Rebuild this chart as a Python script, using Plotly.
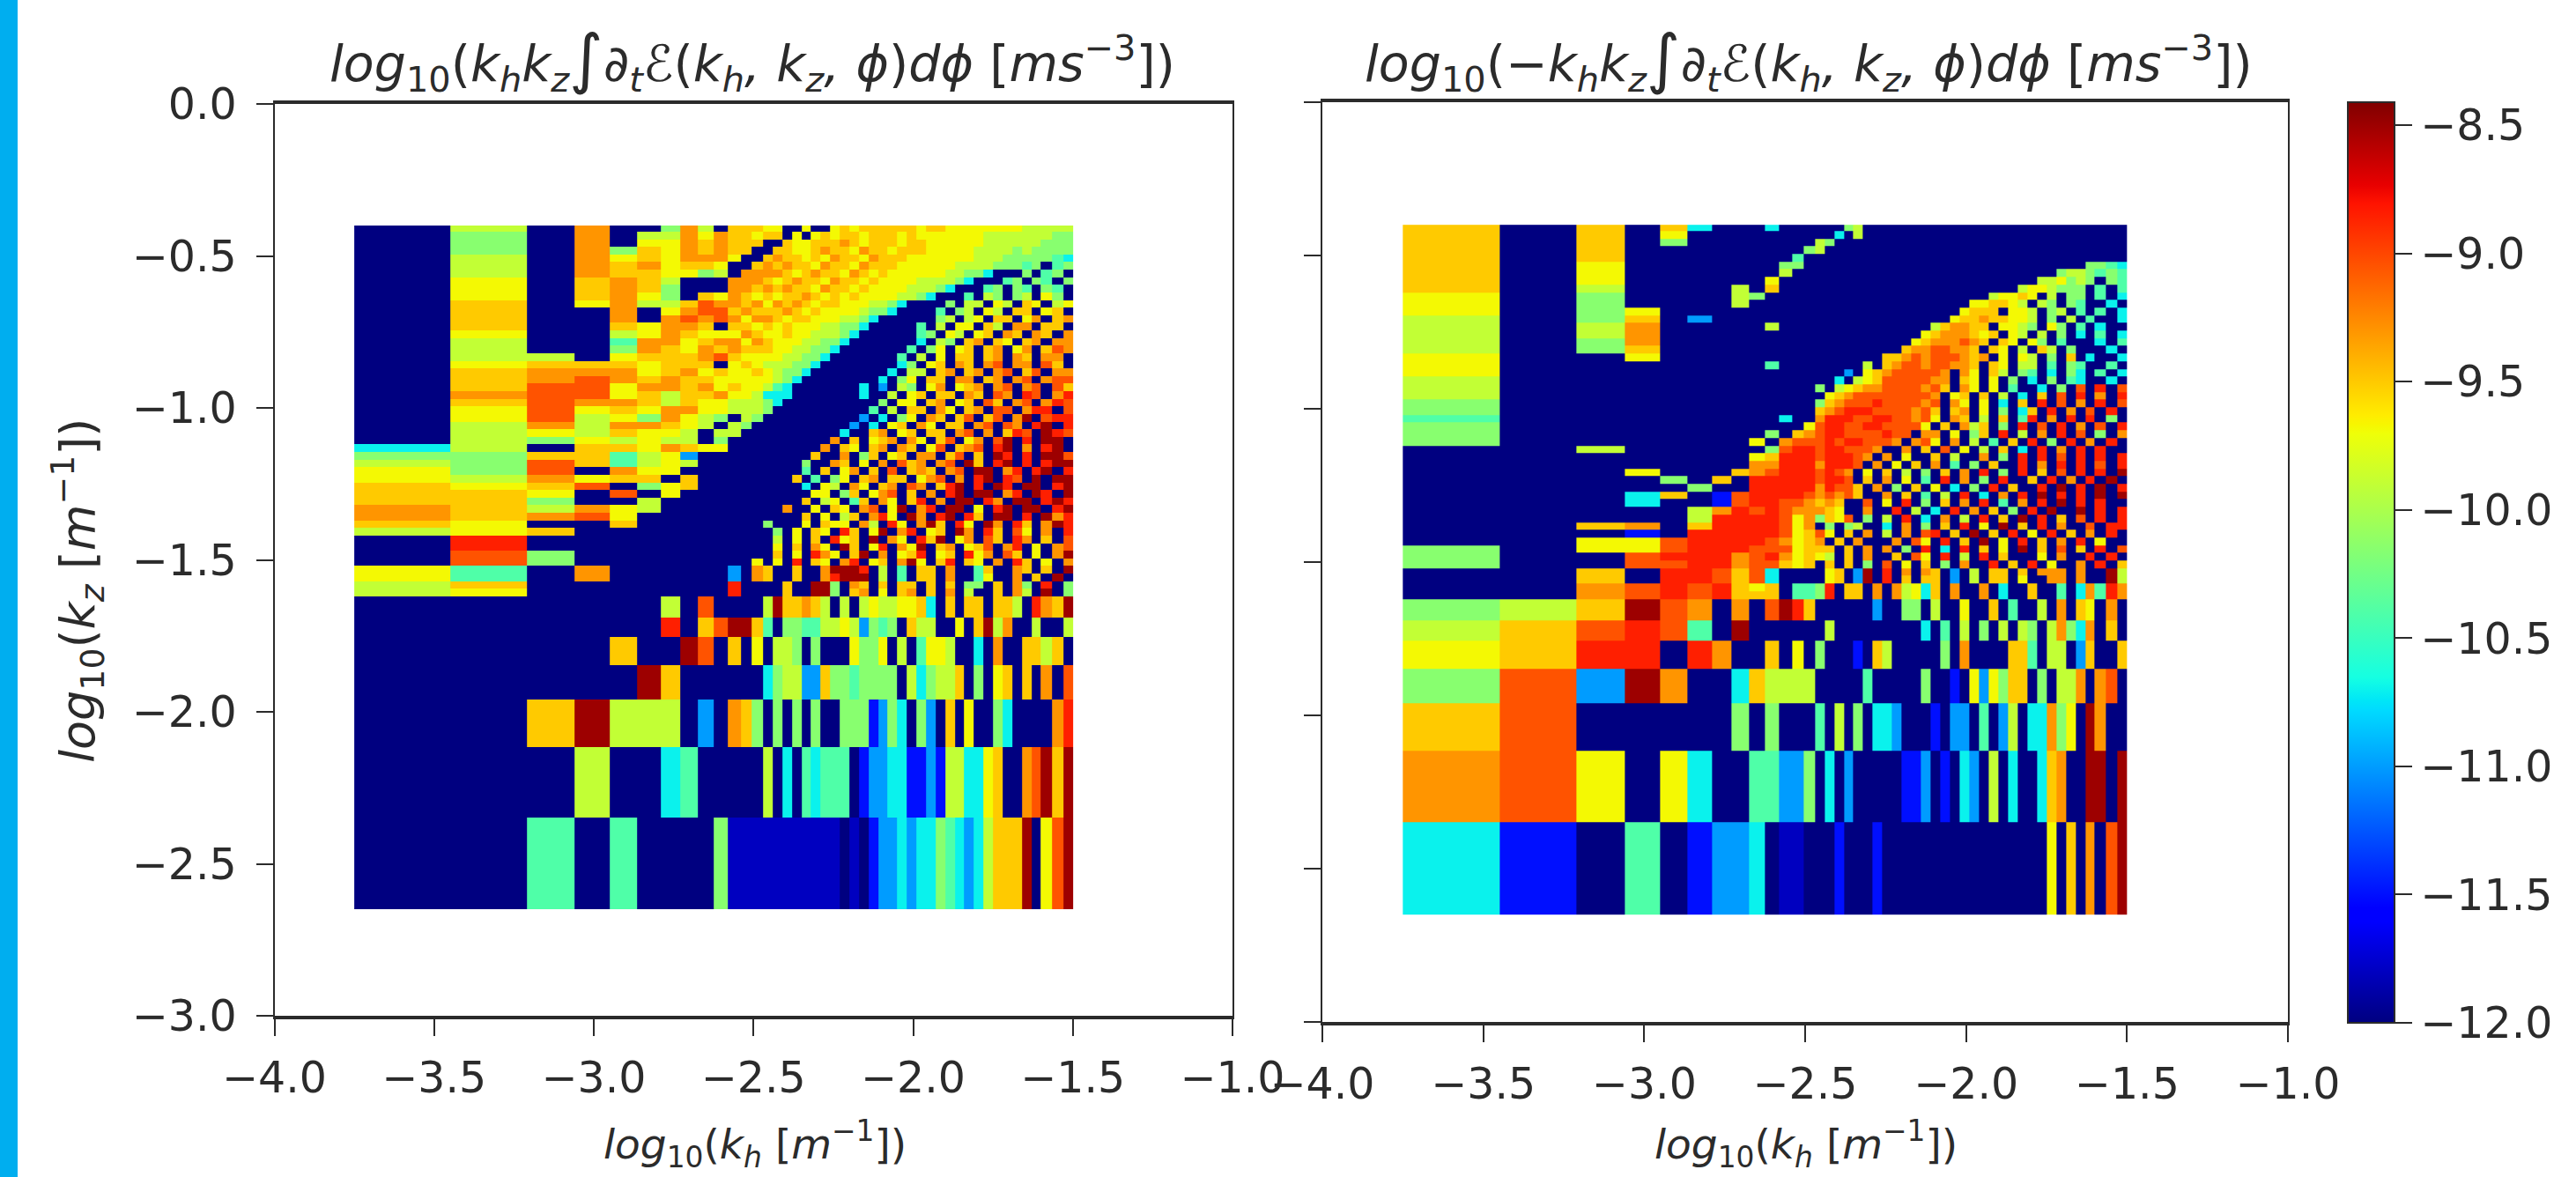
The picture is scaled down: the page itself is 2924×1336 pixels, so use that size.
import plotly.graph_objects as go

KH_EDGES = [-3.75, -3.45, -3.21, -3.06, -2.95, -2.865, -2.79, -2.73, -2.675, -2.625, -2.58, -2.54, -2.505, -2.47,
            -2.44, -2.41, -2.38, -2.35, -2.32, -2.29, -2.26, -2.23, -2.20, -2.17, -2.14, -2.11, -2.08, -2.05, -2.02,
            -1.99, -1.96, -1.93, -1.90, -1.87, -1.84, -1.81, -1.78, -1.75, -1.72, -1.69, -1.66, -1.63, -1.60, -1.565,
            -1.53, -1.50]
KZ_EDGES = [-2.65, -2.348, -2.116, -1.96, -1.847, -1.755, -1.69, -1.62,
            -1.595, -1.57, -1.545, -1.52, -1.495, -1.47, -1.445, -1.42, -1.395, -1.37, -1.345, -1.32, -1.295, -1.27,
            -1.245, -1.22, -1.195, -1.17, -1.145, -1.12, -1.095, -1.07, -1.045, -1.02, -0.995, -0.97, -0.945, -0.92,
            -0.895, -0.87, -0.845, -0.82, -0.795, -0.77, -0.745, -0.72, -0.695, -0.67, -0.645, -0.62, -0.595, -0.57,
            -0.545, -0.52, -0.495, -0.47, -0.445, -0.42, -0.40]

# value read for each colour code in the cell tables below
LEVELS = {'.': -12.0, '0': -11.8, '1': -11.5, '2': -11.0, '3': -10.7, '4': -10.4, '5': -10.15, '6': -9.9,
          '7': -9.68, '8': -9.5, '9': -9.3, 'o': -9.05, 'r': -8.85, 'd': -8.5}

# rows run from the top of each panel down, one character per cell
LEFT_ROWS = [
".6.9..596.8887 7..7.. 78788 88887 88777 77777 66666",
".5.9.669798878 8.7.78 78878 88787 77777 76666 66655",
".5.9.77989888. .87788 89878 88788 77777 76666 66555",
".5.958798988.. 887789 88798 87888 77777 66665 65555",
".6.97879997..8 988787 98879 88877 77777 66655 55543",
".6.9897887..89 898879 88798 88777 77766 66555 45.45",
".6.9887756.999 987898 87987 87777 77665 53... 5.45.",
".7.8986...9998 789887 98878 77776 66653 ...45 .54.5",
".7.8985...9989 898879 88787 77766 653.. .45.5 4.54.",
".7.8975.879878 788987 87877 77665 3...4 .65.5 6.75.",
".8.79668o99897 989878 87776 653.. ..5.6 6.76. 87.67",
".8..9.79oo8988 898787 77765 53... .4.56 .76.8 8.78.",
".8..9.9o9o9799 878877 76653 ..... .56.6 7.88. 79.89",
".8..87998.8878 787776 6553. ....4 .6.77 .86.9 9.88.",
".7..6798777987 787766 653.. ....4 5.76. 78.98 .98.9",
".6..4997899798 777665 53... ....3 .65.8 9.87. 89.99",
".6..5987989888 776655 3.... ...4. 57.78 .89.7 9.8o9",
".66.78889o8777 766553 ..... ..4.6 .7.88 .89.9 8.99.",
".78887888.7876 66553. ..... ..35. 78.98 .9o.9 9.o8.",
".8999789787787 6553.. ..... .3.66 .89.8 9.9o. 8o.99",
".89o9898877777 653... ..... 3.57. 88.99 .89.9 o.9oo",
".8oo7998978776 43.... ...3. 2.65. 79.78 9.9o. 9o.o8",
".9oo7868897763 33.... ...3. .6.78 .88.9 8.o9. ro.9r",
".8o99868776665 3..... ..... 5.77. 89.78 .o8.9 o.9ro",
".7o78799776665 ...... ....4 .6.88 .97.8 9.oo. 9rr.o",
".7o6759765.65. ...... ...2. 3.57. 98.8o .8o.9 d.orr",
".69699876.65.. ...... ..2.3 .78.9 7.88. 9o.o9 .rd.r",
".6768776.66... ...... .3..8 9.78. 88.9o .9.8r o.dro",
".6576766.5.... ...... 9.8.7 89.97 .8o.7 9.od. r.dd.",
"36.8879877.... .....9 .87.8 9.98. 7o.89 o.rd. 9.rd.",
"55884672...... ....8. .9.58 .78.9 9.8o. 8.dr. r.ddo",
"65o84676...... ...5.. 98.7. 9.o89 .9o.d 8.rd. r.rdd",
"75o.977....... ...4.8 .79.8 .o.89 8.9o. dd.9r .rd.r",
"769788.8...... ..8.4. 57.89 .88.7 9o.9. rd.ro .d.dd",
"878o.578...... ...3.7 6.97. 89.o9 .8rd. r.dr. dd.rd",
"887.o.7....... ....77 .58.7 9o.8. 9.rd. dd.9r .dr.d",
"885..6........ ...8.6 7.48. 97.8r .9.dd .r9.d d.rdr",
"986976........ .9..7. 87.9o .7d.9 r.dd. 7.rd. dd.rd",
"989o7......... ...8.7 .68.9 r7.d9 .rd.r 8.dd. r.d9r",
"87..8........5 ...7.8 77.96 .r7.9 d8.r7 .d9.r 8.9dr",
"678........... 5.7.87 .r8.7 d.9r. 78.d9 .r8.o 7.9.r",
".r............ 6.7.8. r78.d .97.r 8d.79 .o8.r 9.8.o",
".r............ 7.8.97 .d8.7 r.97d .89.7 8o.9r .7.9o",
".o5........... 8.7.r9 7.8d. 9.78r .78.r 79.o8 .7.9d",
".o5.........7. 7.r.87 .9r.7 8.9d7 .8r.8 7.9.r 8.7.9",
"74.9......2.98 ..8..9 dddr. 6.4.8 8.9.. 48..9 8.8.d",
"74.9......2.98 ..8..9 rddd. 6.4.8 8.9.. 47..9 .8.d.",
"68........r... .8..dd 5.98. 8.88. 8.8.5 5.8.9 5.r.5",
"67........r... .8..dd 5.89. 7.89. 8.9.6 ..8.9 6.d.5",
"......6.o....6 d88986 .6.67 66778 3.8.8 8.886 .r98d",
"......r.8odd84 .55446 67625 45.86 6..7. 8d69. .6..6",
"....8..do.8.7. 665.5. ..755 7.6.4 776.. 3.9.. 8868.",
".....d8......3 566228 55455 55.63 5668. 5.78. 8.9.o",
"..8d666.2.985. 5.5.5. .5551 253.5 2.8.7 ..53. ...9r",
"...6..34.....6 .3.434 44.12 23311 21663 378.. 9od8d",
"..4.4....50000 000000 0.0.1 22323 35432 36888 d.7od",
]

RIGHT_ROWS = [
"8.8.83...3.... ..56.. ..... ..... ..... ..... .....",
"8.8.7......... .3.6.. ..... ..... ..... ..... .....",
"8.8.5........6 5..... ..... ..... ..... ..... .....",
"8.8.........56 ...... ..... ..... ..... ..... .....",
"8.8........4.. ...... ..... ..... ..... ..... .....",
"8.7.......55.. ...... ..... ..... ..... ..... .5543",
"8.7.......6... ...... ..... ..... ..... ...56 65454",
"8.7......7.... ...... ..... ..... ..... .6675 65.54",
"8.6....6.8.... ...... ..... ..... ....6 77655 5.4.4",
"7.5....65..... ...... ..... ..... .6778 7.6.5 5.4.3",
"7.5....6...... ...... ..... ....7 78876 .65.5 4..3.",
"7.57.......... ...... ..... ...78 88.77 6.56. 4.4.3",
"6.58.2........ ...... ..... ..788 98877 6.5.6 .4..3",
"6.69.....6.... ...... ..... 68998 8.776 5.75. 4.3..",
"6.69.......... ...... ....7 89998 78.76 .6.5. 3.4.3",
"6.59.......... ...... ...78 999o9 8.87. 75.4. ..3.4",
"6.58.......... ...... ..899 oo998 .87.6 .86.5 ...3.",
"7..7.......... ...... 889o9 ooo98 9.7.7 6.5.8 .3..3",
"7........4.... ....6. 89oo9 oo998 .87.6 6.4.5 4..4.",
"7............. ..2.78 9oooo o9.97 .86.5 4.3.5 3.4.3",
"6............. .3.678 ooooo 99.87 .7.5. 3.5.4 3..3.",
"6............5 .67899 oooo9 o8.97 .7.4. .3.5. o.r.o",
"6............. 789ooo ooooo 9.78. 8.6.3 .8.o. r.9.r",
"5............5 89ooor oooo9 o.97. 7.3.8 .r.o. 9.r.o",
"5............8 9orrro ooo9o 8.89. 7.5.3 8.r.9 .o.r.",
"4.........3..9 rrroor roo9o 7.98. 6.8.4 r.9.r .r.5.",
"5...........7o rroorr oooo7 .8.96 8.5.r .o.r. 9.o.r",
"5........5.89o rroooo roo.9 9.7.5 8.r.6 .9.r. o.5.9",
"5.......7.9ooo rorroo o9.9o 7.9.6 .4.8. r.5.r .9.r.",
"..6......5orro rrooo9 ..9.8 .o.7. 6.8.3 .r.9. r.r..",
"........78rrro rrro9. 9.7.. 8.6.. 9.5.r .r.o. r.r.r",
"........99rrr9 rrro.9 .7.8. 9.4.5 .8..r .9.r. r.o.r",
"...7...89orrro ro9.7. 8.6.5 .8.9. r.5.r .8.o. r.r.d",
"....5.8.rrrrro rro.8. 9.7.4 .r.9. 5.r.. 8.r.9 .r.d.",
".....5..rrrrr9 roo8.9 .5.8. 7.3.5 .r.8. .r.d. r.d.r",
"...38.1orrrro9 o9o8.. 9.8.4 .6.r. 3.9.r .d.r. r.d.d",
"...3..1orroo98 98..o. 7.r.5 .8.9. r.4.9 .r.d. r.r..",
".....69roro999 87..9. .r.6. 3.r.9 .8.5. r.d.. d.r.r",
".....6rrrro795 87o.5. 6.r.3 .9.6. r.8.d .r.8. o.r.r",
"..89.8rrrro79. 5.56.. 3.9.5 .8.r. 7.d.8 .r.9. .o.rr",
"...1.rrrrro78o 7.8.9. 6.9.o r.8.d .8.r. 7.r.8 .9.r.",
"..77orrrro9789 .8.9.. .9.o7 .r.8. d.7.r .8.9. r.7..",
"5.77orrrooo788 8.8.9. 9.5.r .3.r. 8.7.d .8.o. 8.r.o",
"5..orrr9or9787 6.8.9. .8.o7 .r.6. r.8.. .7.9. .r.r.",
"5..oorr9oo878. 8.8.5. o.7.8 .5.9. .r.8. r.7.. 9.r.8",
"..8.rro8o3.... 78.2d. r.9.9 8.2.6 .88.8 .999. 9..d6",
"..8.rro8o3.... 78.2d. r.8.8 8.2.6 .88.7 ..99. 9..d6",
"..9oror878.445 r.88.9 .9673 8.9.. 9.3.. 8..4. 394r9",
"..9oror888.445 r.88.9 .9673 8.9.. 9.3.. 8..4. 394r9",
"568do9.9.odr8. .....2 ..55. 6..7. .8.4. .6.9. 87.9.",
"68oro4.d...... 6..... ....3 .4.6. 5.6.6 5.695 39.8.",
"78rr.r9..8.7.5 ...1.8 6.... .5.9. ...88 4.66. 28..8",
"5o2d9..386666. ....4. ....5 ..1.7 27588 .5.66 9.9o.",
"8o.....5.5...4 .6.5.3 32... 1.22. 4.26. 33957 .d9..",
"9o7.73..44225. 3.2... ..112 .1.32 .6.3. .389. .dd.d",
"31.4.1223.00.. .1...1 ..... ..... ..... ..7.8 .9.od",
]

X_TICKS = [-4.0, -3.5, -3.0, -2.5, -2.0, -1.5, -1.0]
Y_TICKS = [0.0, -0.5, -1.0, -1.5, -2.0, -2.5, -3.0]
CBAR_TICKS = [-8.5, -9.0, -9.5, -10.0, -10.5, -11.0, -11.5, -12.0]
INTEGRAL = '<span style="font-size:74px">∫</span>'
LEFT_TITLE = "<i>log</i><sub>10</sub>(<i>k<sub>h</sub>k<sub>z</sub></i>" + INTEGRAL + "∂<sub><i>t</i></sub>ℰ(<i>k<sub>h</sub>, k<sub>z</sub>, ϕ</i>)<i>dϕ</i> [<i>ms</i><sup>−3</sup>])"
RIGHT_TITLE = "<i>log</i><sub>10</sub>(−<i>k<sub>h</sub>k<sub>z</sub></i>" + INTEGRAL + "∂<sub><i>t</i></sub>ℰ(<i>k<sub>h</sub>, k<sub>z</sub>, ϕ</i>)<i>dϕ</i> [<i>ms</i><sup>−3</sup>])"
X_LABEL = "<i>log</i><sub>10</sub>(<i>k<sub>h</sub></i> [<i>m</i><sup>−1</sup>])"
Y_LABEL = "<i>log</i><sub>10</sub>(<i>k<sub>z</sub></i> [<i>m</i><sup>−1</sup>])"

JET = [[0, "rgb(0,0,128)"], [0.11, "rgb(0,0,255)"], [0.125, "rgb(0,0,255)"], [0.34, "rgb(0,219,255)"],
       [0.35, "rgb(0,230,247)"], [0.375, "rgb(21,255,226)"], [0.64, "rgb(239,255,8)"], [0.65, "rgb(247,246,0)"],
       [0.66, "rgb(255,236,0)"], [0.89, "rgb(255,19,0)"], [0.91, "rgb(232,0,0)"], [1, "rgb(128,0,0)"]]

W, H = 2924, 1336
FONT = "DejaVu Sans"
INK = "#2b2b2b"
TICK_SIZE = 49


def cells(rows):
    grid = []
    for row in rows[::-1]:
        text = row.replace(" ", "").ljust(len(KH_EDGES) - 1, ".")[:len(KH_EDGES) - 1]
        grid.append([LEVELS[c] for c in text])
    return grid


fig = go.Figure()
fig.add_trace(go.Heatmap(x=KH_EDGES, y=KZ_EDGES, z=cells(LEFT_ROWS), coloraxis="coloraxis", xaxis="x", yaxis="y",
                         hoverinfo="skip"))
fig.add_trace(go.Heatmap(x=KH_EDGES, y=KZ_EDGES, z=cells(RIGHT_ROWS), coloraxis="coloraxis", xaxis="x2", yaxis="y2",
                         hoverinfo="skip"))

axis = dict(showgrid=False, zeroline=False, mirror=True, showline=True, linecolor=INK, ticks="outside", ticklen=19,
            tickwidth=2, tickcolor=INK, tickfont=dict(family=FONT, size=TICK_SIZE, color=INK), tickformat=".1f")
xa = dict(axis, linewidth=4, range=[-4, -1], tickvals=X_TICKS, ticklabelstandoff=5)
ya = dict(axis, linewidth=2, range=[-3, 0], tickvals=Y_TICKS, ticklabelstandoff=12)

fig.update_layout(
    width=W, height=H, autosize=False, margin=dict(l=0, r=0, t=0, b=0, pad=0, autoexpand=False),
    paper_bgcolor="white", plot_bgcolor="white", showlegend=False,
    xaxis=dict(xa, domain=[311.5 / W, 1399 / W], anchor="y"),
    yaxis=dict(ya, domain=[1 - 1153 / H, 1 - 118 / H], anchor="x"),
    xaxis2=dict(xa, domain=[1501 / W, 2597 / W], anchor="y2"),
    yaxis2=dict(ya, domain=[1 - 1160 / H, 1 - 116 / H], anchor="x2", showticklabels=False),
    coloraxis=dict(
        cmin=-12, cmax=-8.41, colorscale=JET,
        colorbar=dict(x=2665 / W, xanchor="left", xpad=0, y=1 - 116 / H, yanchor="top", ypad=0,
                      thickness=53, thicknessmode="pixels", len=1045, lenmode="pixels",
                      tickvals=CBAR_TICKS, tickformat=".1f", ticks="outside", ticklen=19, tickwidth=2, tickcolor=INK,
                      tickfont=dict(family=FONT, size=TICK_SIZE, color=INK), outlinewidth=2, outlinecolor=INK),
    ),
    shapes=[dict(type="rect", xref="paper", yref="paper", x0=0, x1=20 / W, y0=0, y1=1, line_width=0,
                 fillcolor="#00AEEF")],
)


def label(text, x, y, size, angle=0):
    fig.add_annotation(text=text, xref="paper", yref="paper", x=x / W, y=1 - y / H, showarrow=False, textangle=angle,
                       xanchor="center", yanchor="middle", font=dict(family=FONT, size=size, color=INK))


label(LEFT_TITLE, 854, 68, 57)
label(RIGHT_TITLE, 2053, 68, 57)
label(X_LABEL, 857, 1298, 47)
label(X_LABEL, 2050, 1298, 47)
label(Y_LABEL, 88, 671, 54, -90)

fig.write_html("out.html", post_script="document.body.style.margin='0';",
               config={"displayModeBar": False})
